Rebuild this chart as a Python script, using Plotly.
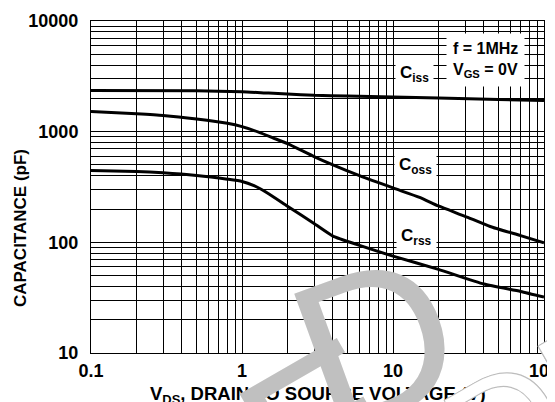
import plotly.graph_objects as go

# ---- data ----
ciss_v = [0.1, 0.5, 1, 1.5, 2, 3, 5, 10, 20, 50, 100]
ciss_c = [2350, 2340, 2300, 2230, 2190, 2130, 2100, 2060, 2010, 1950, 1910]

coss_v = [0.1, 0.2, 0.3, 0.5, 0.8, 1, 1.3, 1.6, 2, 3, 4, 6, 10, 15, 20, 30, 44, 70, 100]
coss_c = [1520, 1450, 1400, 1300, 1190, 1110, 985, 880, 780, 596, 501, 400, 310, 255, 213, 172, 139, 115, 99]

crss_v = [0.1, 0.2, 0.3, 0.5, 0.8, 1, 1.2, 1.5, 2, 3, 4, 6, 10, 20, 40, 70, 100]
crss_c = [446, 437, 425, 402, 372, 355, 325, 275, 212, 148, 114, 94, 75, 57, 42, 36, 32]

x_ticks = [0.1, 1, 10, 100]
x_ticktext = ["0.1", "1", "10", "100"]
y_ticks = [10, 100, 1000, 10000]
y_ticktext = ["10", "100", "1000", "10000"]
minor_mult = [2, 3, 4, 5, 6, 7, 8, 9]

FONT = "Liberation Sans, Arial, sans-serif"

x_minor = [m * d for d in [0.1, 1, 10] for m in minor_mult]
y_minor = [m * d for d in [10, 100, 1000] for m in minor_mult]

fig = go.Figure()
for xs, ys in [(ciss_v, ciss_c), (coss_v, coss_c), (crss_v, crss_c)]:
    fig.add_trace(go.Scatter(x=xs, y=ys, mode="lines",
                             line=dict(color="black", width=3, shape="spline", smoothing=0.5),
                             showlegend=False, hoverinfo="skip"))

axis_common = dict(
    type="log", showline=True, linecolor="black", linewidth=1, mirror=True,
    showgrid=True, gridcolor="black", gridwidth=1, ticks="", zeroline=False,
    automargin=False, ticklabeloverflow="allow",
    tickfont=dict(family=FONT, size=18, color="black", weight="bold"),
)

fig.update_xaxes(**axis_common, range=[-1, 2], tickmode="array",
                 tickvals=x_ticks, ticktext=x_ticktext, ticklabelstandoff=1,
                 minor=dict(tickmode="array", tickvals=x_minor, showgrid=True,
                            gridcolor="black", gridwidth=1, ticks=""))
fig.update_yaxes(**axis_common, range=[1, 4], tickmode="array",
                 tickvals=y_ticks, ticktext=y_ticktext, ticklabelstandoff=8,
                 minor=dict(tickmode="array", tickvals=y_minor, showgrid=True,
                            gridcolor="black", gridwidth=1, ticks=""))

lab_font = dict(family=FONT, size=17, color="black", weight="bold")
ann = [
    dict(text="C<sub>iss</sub>", x=0.715, y=0.839, borderpad=4),
    dict(text="C<sub>oss</sub>", x=0.716, y=0.562, borderpad=4),
    dict(text="C<sub>rss</sub>", x=0.719, y=0.348, borderpad=4),
    dict(text="f = 1MHz<br>V<sub>GS</sub> = 0V", x=0.870, y=0.884, borderpad=6, align="left",
         font=dict(family=FONT, size=16, color="black", weight="bold")),
]
for a in ann:
    a.setdefault("font", lab_font)
    fig.add_annotation(xref="paper", yref="paper", showarrow=False, bgcolor="white",
                       xanchor="center", yanchor="middle", **a)

# axis titles
fig.add_annotation(text="CAPACITANCE (pF)", xref="paper", yref="paper", x=-0.157, y=0.376,
                   textangle=-90, showarrow=False, xanchor="center", yanchor="middle",
                   font=dict(family=FONT, size=17, color="black", weight="bold"))
fig.add_annotation(text="V<sub>DS</sub>, DRAIN TO SOURCE VOLTAGE (V)", xref="paper", yref="paper",
                   x=0.5, y=-0.125, showarrow=False, xanchor="center", yanchor="middle",
                   font=dict(family=FONT, size=18.5, color="black", weight="bold"))

# watermark letters
wm_font = dict(family=FONT, size=215, color="#c0c0c0")
fig.add_annotation(text="E", xref="paper", yref="paper", x=0.512, y=-0.232,
                   textangle=-30, showarrow=False, xanchor="center", yanchor="middle", font=wm_font)
fig.add_annotation(text="D", xref="paper", yref="paper", x=0.627, y=0.032,
                   textangle=-20, showarrow=False, xanchor="center", yanchor="middle", font=wm_font)
fig.add_annotation(text="DE", xref="paper", yref="paper", x=1.013, y=-0.139,
                   textangle=-30, showarrow=False, xanchor="center", yanchor="middle",
                   font=dict(family=FONT, size=150, color="white",
                             shadow="1px 1px 0 #bdbdbd, -1px -1px 0 #bdbdbd, 1px -1px 0 #bdbdbd, -1px 1px 0 #bdbdbd"))

# the page adds an 8px body margin, compensate so the plot sits at 91..544 x 21..353
fig.update_layout(width=555, height=402, margin=dict(l=83, r=19, t=13, b=57),
                  paper_bgcolor="white", plot_bgcolor="white",
                  font=dict(family=FONT, color="black"))

fig.write_html("out.html")
